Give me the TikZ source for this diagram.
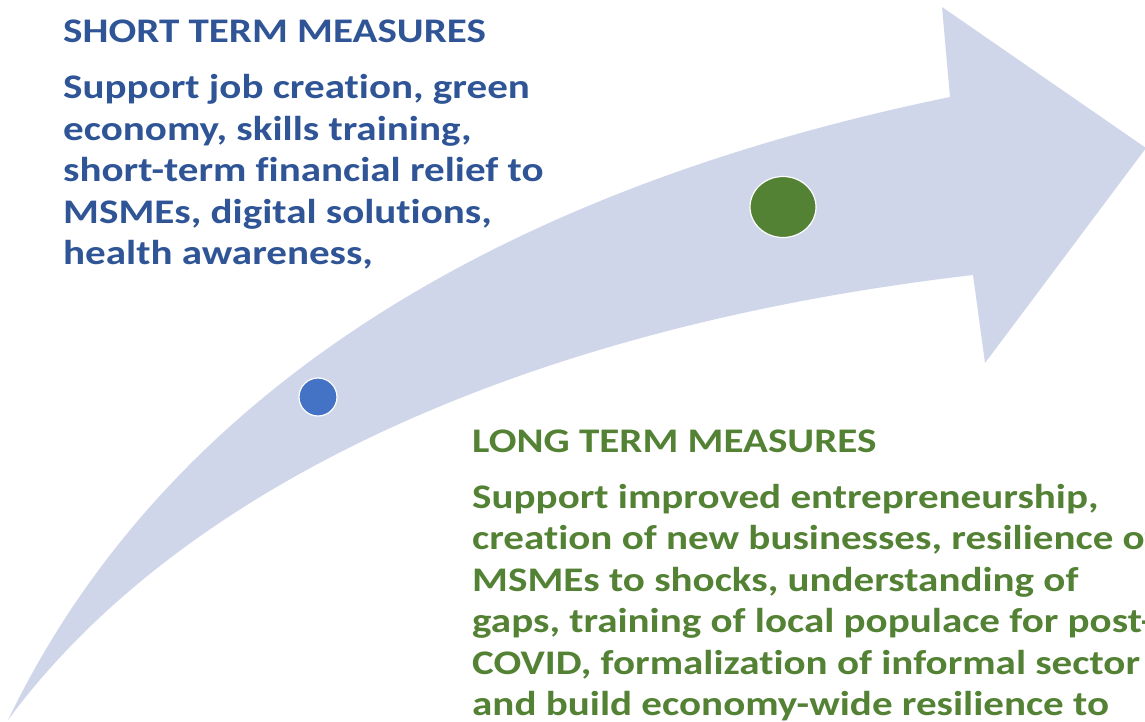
\documentclass[tikz,border=0pt]{standalone}
\usepackage{fontspec}
\setmainfont{Carlito}[FakeStretch=1.19, Ligatures=NoCommon]
\usetikzlibrary{shapes.geometric}
\definecolor{arrowfill}{RGB}{208,214,234}
\definecolor{txtblue}{RGB}{47,85,151}
\definecolor{txtgreen}{RGB}{84,130,53}
\definecolor{dotblue}{RGB}{68,114,196}
\definecolor{dotgreen}{RGB}{84,130,53}
\tikzset{
  headtext/.style={inner sep=0pt, anchor=base west, font=\fontsize{34.5}{41.5}\selectfont\bfseries},
  bodytext/.style={inner sep=0pt, anchor=base west, align=left, font=\fontsize{34.5}{41.5}\selectfont\bfseries},
  dotmark/.style={draw=white, line width=1.2pt, inner sep=0pt},
}
\begin{document}
\begin{tikzpicture}[x=1pt,y=-1pt]
\useasboundingbox (0,0) rectangle (1145,721);
\clip (0,0) rectangle (1145,721);
\fill[white] (0,0) rectangle (1145,721);
% curved arrow
\fill[arrowfill] (8,720) .. controls (150,425) and (450,200) .. (950,97)
  -- (942,7) -- (1146,148) -- (985,363) -- (973,275)
  .. controls (500,330) and (170,500) .. (8,720) -- cycle;
% dots
\node[dotmark, circle, fill=dotblue, minimum size=38pt] (dotshort) at (318,397) {};
\node[dotmark, ellipse, fill=dotgreen, minimum width=66pt, minimum height=61pt] (dotlong) at (783,207) {};
% short term text (base anchor = baseline of the last line)
\node[headtext, text=txtblue] (shorthead) at (63,42) {SHORT TERM MEASURES};
\node[bodytext, text=txtblue] (shortbody) at (63,264.5) {Support job creation, green\\economy, skills training,\\short-term financial relief to\\MSMEs, digital solutions,\\health awareness,};
% long term text
\node[headtext, text=txtgreen] (longhead) at (472,452) {LONG TERM MEASURES};
\node[bodytext, text=txtgreen] (longbody) at (472,715.5) {Support improved entrepreneurship,\\creation of new businesses, resilience of\\MSMEs to shocks, understanding of\\gaps, training of local populace for post-\\COVID, formalization of informal sector\\and build economy-wide resilience to};
\end{tikzpicture}
\end{document}
